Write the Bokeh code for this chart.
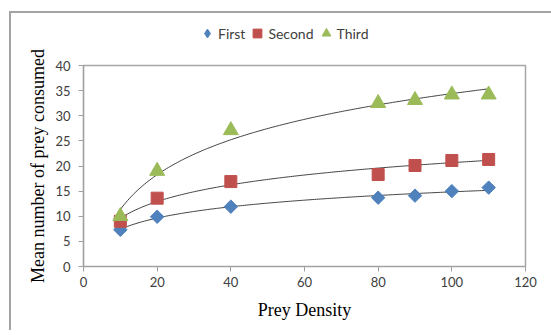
import numpy as np
from bokeh.plotting import figure
from bokeh.layouts import column
from bokeh.models import Range1d, FixedTicker, Legend, LegendItem, ColumnDataSource
from bokeh.embed import file_html
from bokeh.resources import INLINE

# ---- data ----
prey_density = [10, 20, 40, 80, 90, 100, 110]
first = [7.3, 9.9, 11.9, 13.7, 14.1, 15.0, 15.7]
second = [9.0, 13.6, 16.9, 18.3, 20.1, 21.1, 21.3]
third = [10.0, 19.0, 27.1, 32.5, 33.1, 34.2, 34.2]
series_names = ["First", "Second", "Third"]
x_ticks = [0, 20, 40, 60, 80, 100, 120]
y_ticks = [0, 5, 10, 15, 20, 25, 30, 35, 40]

colors = ["#4F81BD", "#C0504D", "#9BBB59"]
CANVAS_W = 540

# ---- main chart ----
p = figure(
    output_backend="svg", toolbar_location=None,
    frame_width=442, frame_height=201,
    min_border_left=72, min_border_right=CANVAS_W - 72 - 442, min_border_top=22, min_border_bottom=64,
    x_range=Range1d(0, 120), y_range=Range1d(0, 40),
    background_fill_color="white", border_fill_color="white",
)
p.outline_line_color = "#a6a6a6"
p.outline_line_width = 1.5
p.xgrid.visible = False
p.ygrid.visible = False

for ax in (p.xaxis[0], p.yaxis[0]):
    ax.axis_line_color = "#a0a0a0"
    ax.axis_line_width = 1.2
    ax.major_tick_line_color = "#a0a0a0"
    ax.major_tick_in = 0
    ax.major_tick_out = 5
    ax.minor_tick_line_color = None
    ax.major_label_text_font = "Lato"
    ax.major_label_text_font_size = "13px"
    ax.major_label_text_color = "#404040"
    ax.axis_label_text_font = "Liberation Serif"
    ax.axis_label_text_font_style = "normal"
    ax.axis_label_text_color = "#000000"

p.xaxis.ticker = FixedTicker(ticks=x_ticks)
p.yaxis.ticker = FixedTicker(ticks=y_ticks)
p.xaxis.axis_label = "Prey Density"
p.yaxis.axis_label = "Mean number of prey consumed"
p.xaxis.axis_label_text_font_size = "18px"
p.yaxis.axis_label_text_font_size = "18px"
p.xaxis.major_label_standoff = 5
p.yaxis.major_label_standoff = 8
p.xaxis.axis_label_standoff = 10
p.yaxis.axis_label_standoff = 4

# logarithmic trendlines (least-squares fit y = a ln x + b)
lx = np.log(np.array(prey_density, dtype=float))
xs = np.linspace(min(prey_density), max(prey_density), 200)
for ys in (first, second, third):
    a, b = np.polyfit(lx, np.array(ys), 1)
    p.line(xs, a * np.log(xs) + b, line_color="#404040", line_width=1)

src = ColumnDataSource(dict(x=prey_density, first=first, second=second, third=third))
p.scatter("x", "first", source=src, marker="square", angle=np.pi / 4, size=9.5,
          fill_color=colors[0], line_color=colors[0])
p.scatter("x", "second", source=src, marker="square", size=12,
          fill_color=colors[1], line_color=colors[1])
p.scatter("x", "third", source=src, marker="triangle", size=15,
          fill_color=colors[2], line_color=colors[2])

# ---- legend strip above the chart ----
# key renderers use the same series data; their points fall outside this strip's
# ranges, so only their legend swatches are shown
leg = figure(
    output_backend="svg", toolbar_location=None,
    frame_width=CANVAS_W, frame_height=30, min_border=0,
    x_range=Range1d(-2, -1), y_range=Range1d(-2, -1),
    x_axis_type=None, y_axis_type=None,
    background_fill_color="white", border_fill_color="white", outline_line_color=None,
)
leg.xgrid.visible = False
leg.ygrid.visible = False
k1 = leg.scatter("x", "first", source=src, marker="diamond",
                 fill_color=colors[0], line_color=colors[0])
k2 = leg.scatter("x", "second", source=src, marker="square",
                 fill_color=colors[1], line_color=colors[1])
k3 = leg.scatter("x", "third", source=src, marker="triangle",
                 fill_color=colors[2], line_color=colors[2])
legend = Legend(
    items=[LegendItem(label=series_names[0], renderers=[k1]),
           LegendItem(label=series_names[1], renderers=[k2]),
           LegendItem(label=series_names[2], renderers=[k3])],
    orientation="horizontal", location=(185, -2),
    label_text_font="Lato", label_text_font_size="14px", label_text_color="#404040",
    glyph_width=22, glyph_height=24, label_standoff=0, spacing=1,
    padding=0, margin=0, border_line_color=None, background_fill_alpha=0,
)
leg.add_layout(legend, "center")

layout = column(leg, p, spacing=0,
                styles={"border-left": "2px solid #a3a3a3", "border-top": "2px solid #a3a3a3",
                        "margin-top": "11px", "margin-left": "9px"})

open("out.html", "w").write(file_html(layout, INLINE))
